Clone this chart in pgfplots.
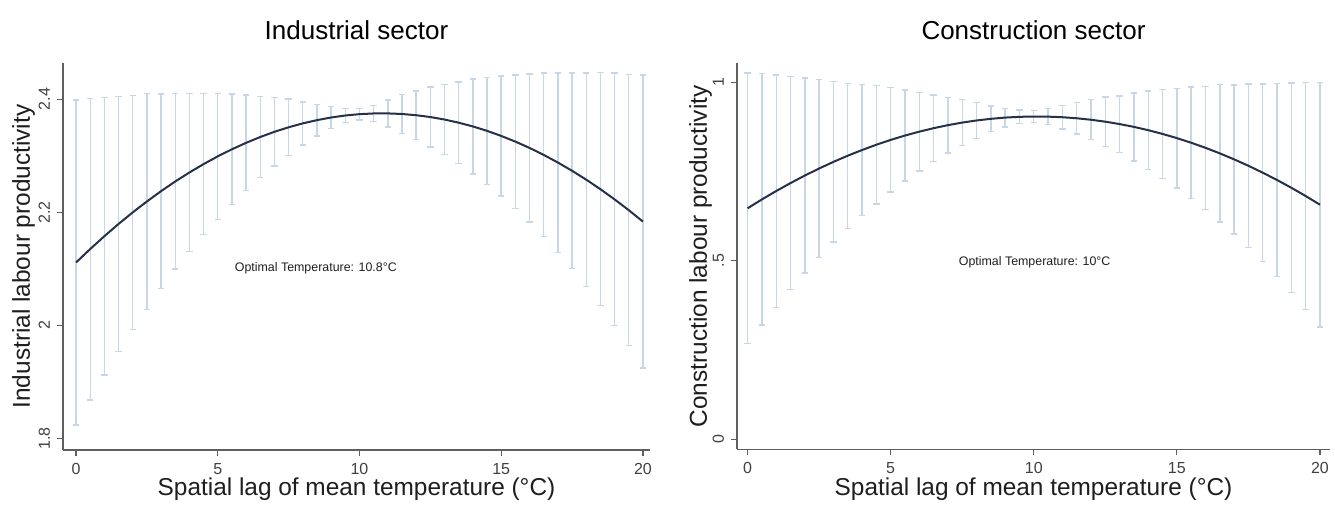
\documentclass[border=0pt]{standalone}
\usepackage{fontspec}
\setmainfont{Liberation Sans}
\usepackage{pgfplots}
\usepackage{pgfplotstable}
\pgfplotsset{compat=1.18}

\definecolor{cibar}{RGB}{200,215,230}
\definecolor{meanline}{RGB}{38,48,72}
\definecolor{axisgray}{RGB}{95,95,95}
\definecolor{txt}{RGB}{30,30,30}

% x = temperature, m = prediction, h = half-width of 95% CI
\pgfplotstableread{
x m h
0 2.1114 0.287
0.5 2.1352 0.2665
1 2.1579 0.245
1.5 2.1795 0.2255
2 2.2000 0.207
2.5 2.2193 0.1905
3 2.2375 0.172
3.5 2.2546 0.155
4 2.2705 0.140
4.5 2.2853 0.1245
5 2.2990 0.1115
5.5 2.3115 0.098
6 2.3229 0.0845
6.5 2.3332 0.0715
7 2.3424 0.0605
7.5 2.3504 0.050
8 2.3573 0.038
8.5 2.3630 0.028
9 2.3677 0.019
9.5 2.3712 0.012
10 2.3736 0.010
10.5 2.3748 0.0145
11 2.3749 0.024
11.5 2.3739 0.034
12 2.3717 0.043
12.5 2.3685 0.053
13 2.3641 0.062
13.5 2.3585 0.072
14 2.3519 0.084
14.5 2.3441 0.0945
15 2.3351 0.106
15.5 2.3251 0.118
16 2.3139 0.131
16.5 2.3016 0.1445
17 2.2881 0.1585
17.5 2.2735 0.173
18 2.2578 0.1885
18.5 2.2410 0.206
19 2.2230 0.223
19.5 2.2039 0.2395
20 2.1837 0.2588
}\indtab

\pgfplotstableread{
x m h
0 0.6469 0.379
0.5 0.6718 0.352
1 0.6953 0.3255
1.5 0.7176 0.298
2 0.7387 0.273
2.5 0.7584 0.250
3 0.7770 0.225
3.5 0.7942 0.203
4 0.8102 0.183
4.5 0.8250 0.1657
5 0.8385 0.146
5.5 0.8507 0.127
6 0.8616 0.110
6.5 0.8713 0.093
7 0.8798 0.078
7.5 0.8870 0.064
8 0.8929 0.050
8.5 0.8975 0.036
9 0.9010 0.026
9.5 0.9031 0.019
10 0.9040 0.016
10.5 0.9036 0.022
11 0.9020 0.033
11.5 0.8991 0.044
12 0.8949 0.056
12.5 0.8895 0.069
13 0.8828 0.079
13.5 0.8749 0.095
14 0.8657 0.110
14.5 0.8552 0.1245
15 0.8435 0.1395
15.5 0.8305 0.156
16 0.8163 0.172
16.5 0.8008 0.192
17 0.7840 0.2085
17.5 0.7660 0.2287
18 0.7467 0.2488
18.5 0.7262 0.271
19 0.7044 0.2935
19.5 0.6813 0.3174
20 0.6570 0.342
}\contab

\pgfplotsset{
  stata/.style={
    scale only axis,
    anchor=south west,
    axis x line*=bottom, axis y line*=left,
    axis line style={-, draw=axisgray, line width=0.8pt},
    tick style={draw=axisgray, line width=0.6pt},
    tick align=outside, major tick length=3pt,
    xtick={0,5,10,15,20}, xticklabels={0,5,10,15,20},
    ticklabel style={font=\fontsize{8}{9}\selectfont, text=txt!85},
    yticklabel style={rotate=90, anchor=south},
    xlabel={Spatial lag of mean temperature (°C)},
    xlabel style={font=\fontsize{12.2}{14}\selectfont, text=txt, yshift=5pt},
    ylabel style={font=\fontsize{12.2}{14}\selectfont, text=txt},
    clip=false,
  },
  cibars/.style={draw=none, mark=none, forget plot,
    error bars/.cd, y dir=both, y explicit,
    error bar style={draw=cibar, line width=0.7pt},
    error mark options={draw=cibar, rotate=90, mark size=1.6pt, line width=0.7pt}},
  mline/.style={draw=meanline, line width=1pt, mark=none},
}

\begin{document}
\begin{tikzpicture}
\useasboundingbox (0,0) rectangle (667.5pt,-252pt);

\begin{axis}[stata,
  at={(31.5pt,-225pt)}, width=293.5pt, height=193.5pt,
  xmin=-0.46, xmax=20.25, ymin=1.78, ymax=2.464,
  ytick={1.8,2,2.2,2.4}, yticklabels={1.8,2,2.2,2.4},
  ylabel={Industrial labour productivity},
  ylabel style={yshift=-5pt},
]
\addplot[cibars] table[x=x, y=m, y error=h] {\indtab};
\addplot[mline] table[x=x, y=m] {\indtab};
\node[font=\fontsize{6.2}{7}\selectfont, text=txt] at (axis cs:8.46,2.102) {Optimal Temperature: 10.8°C};
\end{axis}

\begin{axis}[stata,
  at={(368.5pt,-224.65pt)}, width=296.5pt, height=193pt,
  xmin=-0.37, xmax=20.35, ymin=-0.028, ymax=1.053,
  ytick={0,0.5,1}, yticklabels={0,.5,1},
  ylabel={Construction labour productivity},
  ylabel style={yshift=-6.5pt},
]
\addplot[cibars] table[x=x, y=m, y error=h] {\contab};
\addplot[mline] table[x=x, y=m] {\contab};
\node[font=\fontsize{6.2}{7}\selectfont, text=txt] at (axis cs:10.03,0.497) {Optimal Temperature: 10°C};
\end{axis}

\node[font=\fontsize{13}{15}\selectfont, text=black] at (178.25pt,-15pt) {Industrial sector};
\node[font=\fontsize{13}{15}\selectfont, text=black] at (516.75pt,-15pt) {Construction sector};
\end{tikzpicture}
\end{document}
